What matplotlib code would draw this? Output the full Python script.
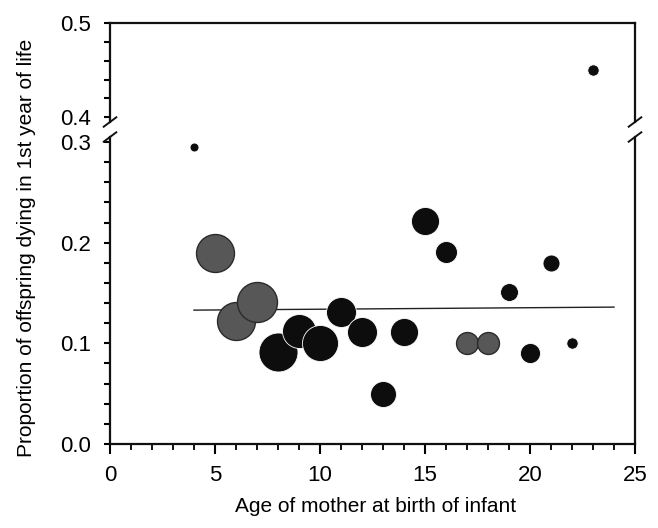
import matplotlib
matplotlib.use("Agg")
import matplotlib.pyplot as plt
import numpy as np

plt.rcParams['font.family'] = ['Liberation Sans', 'DejaVu Sans']

# ---- data ----
ages = [4, 5, 6, 7, 8, 9, 10, 11, 12, 13, 14, 15, 16, 17, 18, 19, 20, 21, 22, 23]
prop_dying = [0.295, 0.190, 0.122, 0.141, 0.091, 0.112, 0.100, 0.131, 0.111, 0.050,
              0.111, 0.222, 0.191, 0.100, 0.100, 0.151, 0.090, 0.180, 0.100, 0.450]
sample_size = [5, 90, 90, 100, 95, 72, 81, 56, 56, 42, 49, 49, 30, 30, 30, 20, 25, 18, 8, 8]
grey_group = [False, True, True, True, False, False, False, False, False, False,
              False, False, False, True, True, False, False, False, False, False]
fit_x = [4, 24]
fit_y = [0.133, 0.136]

x_ticklabels = ["0", "5", "10", "15", "20", "25"]
y_low_labels = ["0.0", "0.1", "0.2", "0.3"]
y_up_labels = ["0.4", "0.5"]

W, H = 658, 528
fig = plt.figure(figsize=(W / 100, H / 100), dpi=100)
left, right = 110, 635
axL = fig.add_axes([left / W, 84 / H, (right - left) / W, 307 / H])
axU = fig.add_axes([left / W, (H - 122) / H, (right - left) / W, 99 / H])

black = "#0d0d0d"
grey = "#575757"
sizes = [8.3 * n for n in sample_size]
fc = [grey if g else black for g in grey_group]
ec = ["#2b2b2b" if g else "white" for g in grey_group]
lw = [1.0 if g else 0.6 for g in grey_group]

for ax in (axL, axU):
    ax.plot(fit_x, fit_y, color="#222222", lw=1.0, zorder=1)
    for xi, yi, s, f, e, l in zip(ages, prop_dying, sizes, fc, ec, lw):
        ax.scatter([xi], [yi], s=s, c=f, edgecolors=e, linewidths=l, zorder=2)
    ax.set_xlim(0, 25)
    for sp in ax.spines.values():
        sp.set_linewidth(1.6)
        sp.set_color("#111111")

axL.set_ylim(0, 0.305)
axU.set_ylim(0.395, 0.5)
axL.spines['top'].set_visible(False)
axU.spines['bottom'].set_visible(False)

fs_tick = 16
# ticks
axL.set_xticks(np.arange(0, 26, 5))
axL.set_xticklabels(x_ticklabels)
axL.set_xticks(np.arange(0, 26, 1), minor=True)
axL.tick_params(axis='x', which='major', direction='out', length=7, width=1.5, pad=8, labelsize=fs_tick)
axL.tick_params(axis='x', which='minor', direction='out', length=4.5, width=1.3)
axL.set_yticks([0.0, 0.1, 0.2, 0.3])
axL.set_yticklabels(y_low_labels)
axL.set_yticks(np.arange(0, 0.301, 0.02), minor=True)
axL.tick_params(axis='y', which='both', direction='out', length=4.5, width=1.5, pad=9, labelsize=fs_tick)

axU.set_xticks([])
axU.set_yticks([0.4, 0.5])
axU.set_yticklabels(y_up_labels)
axU.set_yticks(np.arange(0.4, 0.501, 0.02), minor=True)
axU.tick_params(axis='y', which='both', direction='out', length=4.5, width=1.5, pad=9, labelsize=fs_tick)

# break marks
d = 0.012
for ax, yb in ((axU, 0.0), (axL, 1.0)):
    hb = d * (W / H) * ((right - left) / (99 if ax is axU else 307))
    for xb in (0.0, 1.0):
        ax.plot([xb - d, xb + d], [yb - hb * 0.6, yb + hb * 0.6], transform=ax.transAxes,
                color="#111111", lw=1.4, clip_on=False)

fig.text(376 / W, 1 - 507 / H, "Age of mother at birth of infant",
         ha='center', va='center', fontsize=15)
fig.text(27 / W, 1 - 248 / H, "Proportion of offspring dying in 1st year of life",
         rotation=90, ha='center', va='center', fontsize=15)

fig.savefig("out.png", dpi=100)
